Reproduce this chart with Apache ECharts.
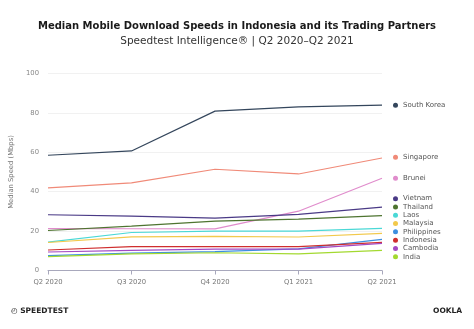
<!DOCTYPE html>
<html><head><meta charset="utf-8">
<script src="https://cdn.jsdelivr.net/npm/echarts@6/dist/echarts.min.js"></script>
<style>html,body{margin:0;padding:0;background:#fff}#c{width:474px;height:329px}</style>
</head><body><div id="c"></div>
<script>
const categories = ['Q2 2020','Q3 2020','Q4 2020','Q1 2021','Q2 2021'];
const southKorea  = [58.5, 60.7, 80.9, 83.1, 83.9];
const singapore   = [41.9, 44.5, 51.4, 49.0, 57.1];
const brunei      = [21.3, 21.2, 21.1, 30.1, 46.8];
const vietnam     = [28.3, 27.6, 26.6, 28.5, 32.2];
const thailand    = [20.3, 22.5, 25.1, 26.1, 27.9];
const laos        = [14.4, 19.3, 20.0, 20.0, 21.4];
const malaysia    = [14.2, 17.1, 17.3, 17.0, 18.8];
const philippines = [7.6, 8.8, 9.6, 11.0, 15.8];
const indonesia   = [10.4, 12.1, 12.1, 12.1, 14.3];
const cambodia    = [9.4, 10.2, 10.8, 10.9, 13.8];
const india       = [7.0, 8.4, 9.0, 8.4, 10.2];
const yTicks = [0, 20, 40, 60, 80, 100];

const seriesDefs = [
  ['South Korea', southKorea, '#34465c'],
  ['Singapore', singapore, '#f08a78'],
  ['Brunei', brunei, '#e08ccc'],
  ['Vietnam', vietnam, '#4a3a86'],
  ['Thailand', thailand, '#4e7430'],
  ['Laos', laos, '#4ad8d6'],
  ['Malaysia', malaysia, '#f2c94c'],
  ['Philippines', philippines, '#3d8fe0'],
  ['Indonesia', indonesia, '#cf2e2e'],
  ['Cambodia', cambodia, '#a349c4'],
  ['India', india, '#a3d930']
];
const FONT = 'DejaVu Sans';
const chart = echarts.init(document.getElementById('c'));
const legendText = {fontFamily: FONT, fontSize: 7, color: '#555', lineHeight: 8.3};
function leg(names, top, gap) {
  return {data: names, orient: 'vertical', left: 393, top: top, icon: 'circle',
    itemWidth: 5, itemHeight: 5, itemGap: gap || 0, padding: 0, selectedMode: false,
    textStyle: legendText};
}
chart.setOption({
  animation: false,
  title: [{
    text: 'Median Mobile Download Speeds in Indonesia and its Trading Partners',
    left: 'center', top: 16,
    textStyle: {fontFamily: FONT, fontSize: 10, fontWeight: 'bold', color: '#1a1a1a'}
  }, {
    text: 'Speedtest Intelligence® | Q2 2020–Q2 2021',
    left: 'center', top: 31,
    textStyle: {fontFamily: FONT, fontSize: 10.5, fontWeight: 'normal', color: '#333'}
  }],
  legend: [
    leg(['South Korea'], 101),
    leg(['Singapore'], 153),
    leg(['Brunei'], 174),
    leg(['Vietnam','Thailand','Laos','Malaysia','Philippines','Indonesia','Cambodia','India'], 194.5)
  ],
  grid: {left: 48, right: 92, top: 73.5, bottom: 58.5, containLabel: false},
  xAxis: {
    type: 'category', data: categories, boundaryGap: false,
    axisLine: {lineStyle: {color: '#a8a8bc', width: 1}},
    axisTick: {show: true, length: 4, lineStyle: {color: '#a8a8bc'}},
    axisLabel: {fontFamily: FONT, fontSize: 6.8, color: '#777', margin: 8}
  },
  yAxis: {
    type: 'value', min: 0, max: 100, interval: 20,
    name: 'Median Speed (Mbps)', nameLocation: 'middle', nameGap: 27,
    nameTextStyle: {fontFamily: FONT, fontSize: 6.8, color: '#777'},
    axisLine: {show: false}, axisTick: {show: false},
    axisLabel: {fontFamily: FONT, fontSize: 6.8, color: '#888', margin: 9,
      formatter: v => yTicks.includes(v) ? String(v) : ''},
    splitLine: {lineStyle: {color: '#f1f1f1', width: 1}}
  },
  series: seriesDefs.map(([name, data, color]) => ({
    name, type: 'line', data, showSymbol: false, symbol: 'circle',
    itemStyle: {color}, lineStyle: {color, width: 1.2}
  })),
  graphic: [
    {type: 'text', left: 11, top: 307, style: {text: '◴ SPEEDTEST', fontFamily: FONT, fontSize: 7.5, fontWeight: 'bold', fill: '#222'}},
    {type: 'text', left: 433, top: 307, style: {text: 'OOKLA', fontFamily: FONT, fontSize: 7.5, fontWeight: 'bold', fill: '#222'}}
  ]
});
</script>
</body></html>
